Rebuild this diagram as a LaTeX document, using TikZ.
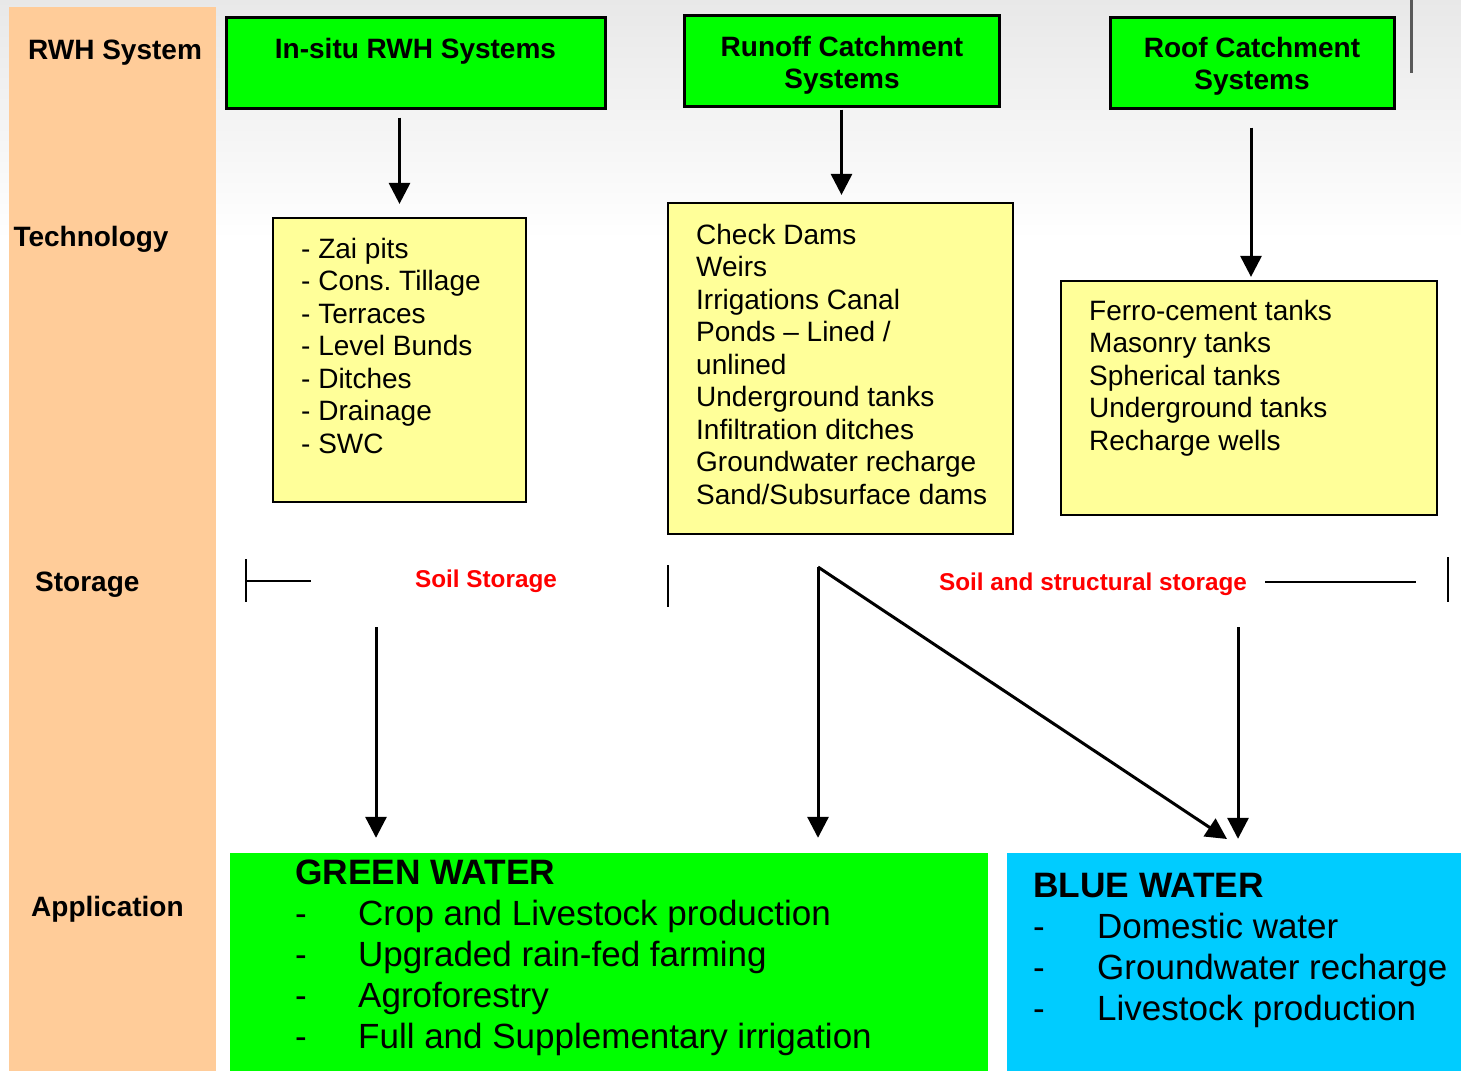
\documentclass[tikz,border=0pt]{standalone}
\usepackage{fontspec}
\setmainfont{Liberation Sans}
\usetikzlibrary{arrows.meta,calc}
\definecolor{peach}{HTML}{FFCC99}
\definecolor{hgreen}{HTML}{00FF00}
\definecolor{techyellow}{HTML}{FFFF99}
\definecolor{bluew}{HTML}{00CCFF}
\definecolor{redlbl}{HTML}{FF0000}
\frenchspacing
\begin{document}
\begin{tikzpicture}[x=1pt,y=-1pt,
  hbox/.style={draw=black,line width=3pt,fill=hgreen,inner sep=0pt},
  techbox/.style={draw=black,line width=2.2pt,fill=techyellow,inner sep=0pt},
  appbox/.style={inner sep=0pt},
  hdr/.style={font=\fontsize{28pt}{32pt}\selectfont\bfseries,inner sep=0pt,anchor=base},
  lbl/.style={font=\fontsize{28pt}{32pt}\selectfont\bfseries,inner sep=0pt,anchor=base west},
  item/.style={font=\fontsize{28pt}{32pt}\selectfont,inner sep=0pt,anchor=base west},
  bigitem/.style={font=\fontsize{35pt}{40pt}\selectfont,inner sep=0pt,anchor=base west},
  bighdr/.style={font=\fontsize{35.3pt}{40pt}\selectfont\bfseries,inner sep=0pt,anchor=base west},
  storelbl/.style={font=\fontsize{24.3pt}{28pt}\selectfont\bfseries,text=redlbl,inner sep=0pt,anchor=base},
  arr/.style={line width=3pt,-{Triangle[width=21pt,length=21pt]}},
  bar/.style={line width=2.6pt}]
\useasboundingbox (0,0) rectangle (1461,1071);
% faint background at the top
\shade[top color=black!9,bottom color=white] (0,0) rectangle (1461,240);
\draw[line width=2.2pt,black!65] (1411.5,0) -- (1411.5,73);

% left column
\node[fill=peach,inner sep=0pt,minimum width=207pt,minimum height=1064pt] (col) at (112.5,539) {};
\node[lbl] (l1) at (28,59.3) {RWH System};
\node[lbl] (l2) at (13.3,246.7) {Technology};
\node[lbl] (l3) at (35,591) {Storage};
\node[lbl] (l4) at (31,916) {Application};

% header boxes
\node[hbox,minimum width=379pt,minimum height=91pt] (h1) at (415.5,62.5) {};
\node[hdr] (h1a) at (415.5,58.3) {In-situ RWH Systems};
\node[hbox,minimum width=315pt,minimum height=91pt] (h2) at (841.5,60.5) {};
\node[hdr] (h2a) at (842,56) {Runoff Catchment};
\node[hdr] (h2b) at (842,88) {Systems};
\node[hbox,minimum width=284pt,minimum height=91pt] (h3) at (1252,62.5) {};
\node[hdr] (h3a) at (1252,57) {Roof Catchment};
\node[hdr] (h3b) at (1252,89) {Systems};

% technology boxes
\node[techbox,minimum width=253pt,minimum height=284pt] (t1) at (399.5,360) {};
\foreach \txt [count=\i from 0] in {- Zai pits,- Cons. Tillage,- Terraces,- Level Bunds,- Ditches,- Drainage,- SWC}
  \node[item] (t1-\i) at (301,{258.3+32.5*\i}) {\txt};
\node[techbox,minimum width=345pt,minimum height=331pt] (t2) at (840.5,368.5) {};
\foreach \txt [count=\i from 0] in {Check Dams,Weirs,Irrigations Canal,Ponds – Lined /,unlined,Underground tanks,Infiltration ditches,Groundwater recharge,Sand/Subsurface dams}
  \node[item] (t2-\i) at (696,{244.3+32.5*\i}) {\txt};
\node[techbox,minimum width=376pt,minimum height=234pt] (t3) at (1249,398) {};
\foreach \txt [count=\i from 0] in {Ferro-cement tanks,Masonry tanks,Spherical tanks,Underground tanks,Recharge wells}
  \node[item] (t3-\i) at (1089,{320+32.5*\i}) {\txt};

% arrows header -> technology
\draw[arr] ([yshift=-8pt]h1.south -| t1.north) -- ([yshift=13pt]t1.north);
\draw[arr] ([yshift=-2pt]h2.south) -- ([yshift=7pt]h2.south |- t2.north);
\draw[arr] ([yshift=-18pt]h3.south -| 1251,0) -- ([yshift=3pt]t3.north -| 1251,0);

% application boxes
\node[appbox,fill=hgreen,minimum width=758pt,minimum height=218pt] (gw) at (609,962) {};
\node[bighdr] (gw0) at (295,884) {GREEN WATER};
\foreach \txt [count=\i from 1] in {Crop and Livestock production,Upgraded rain-fed farming,Agroforestry,Full and Supplementary irrigation}{
  \node[bigitem] (gwd-\i) at (295,{884+41*\i}) {-};
  \node[bigitem] (gw-\i) at (358,{884+41*\i}) {\txt};}
\node[appbox,fill=bluew,minimum width=454pt,minimum height=218pt] (bw) at (1234,962) {};
\node[bighdr] (bw0) at (1033,897.7) {BLUE WATER};
\foreach \txt [count=\i from 1] in {Domestic water,Groundwater recharge,Livestock production}{
  \node[bigitem] (bwd-\i) at (1033,{897.7+41*\i}) {-};
  \node[bigitem] (bw-\i) at (1097,{897.7+41*\i}) {\txt};}

% storage row
\coordinate (sl) at (246,581);
\coordinate (slend) at (311,581);
\draw[bar] (246,559) -- (246,602);
\draw[bar] (sl) -- (slend);
\node[storelbl] (ss1) at (486,587) {Soil Storage};
\draw[bar] (668,565) -- (668,607);
\node[storelbl] (ss2) at (1093,590) {Soil and structural storage};
\coordinate (sr0) at (1265,582);
\coordinate (sr1) at (1416,582);
\draw[bar] (sr0) -- (sr1);
\draw[bar] (1448,557) -- (1448,602);

% arrows storage -> application
\coordinate (a1) at (376,627);
\coordinate (split) at (818,567);
\coordinate (a3) at (1238,627);
\draw[arr] (a1) -- ([yshift=15pt]a1 |- gw.north);
\draw[arr] (split) -- ([yshift=15pt]split |- gw.north);
\draw[arr] (split) -- (1227,839);
\draw[arr] (a3) -- ([yshift=14pt]a3 |- bw.north);
\end{tikzpicture}
\end{document}
